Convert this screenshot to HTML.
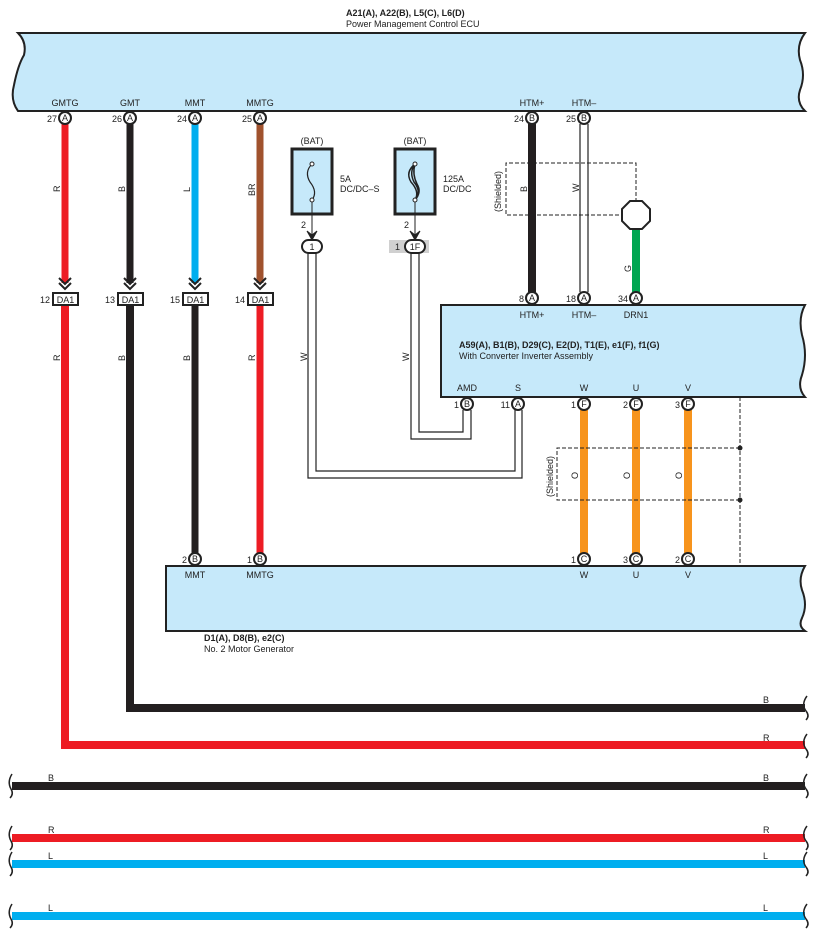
<!DOCTYPE html>
<html><head><meta charset="utf-8"><style>
body{margin:0;background:#fff}
svg{display:block}
text{font-family:"Liberation Sans",sans-serif;font-size:9px;fill:#222}
.b{font-weight:bold}
</style></head><body>
<svg width="818" height="938" viewBox="0 0 818 938" xmlns="http://www.w3.org/2000/svg">
<!-- Top ECU -->
<text x="346" y="16" class="b">A21(A), A22(B), L5(C), L6(D)</text>
<text x="346" y="27">Power Management Control ECU</text>
<path d="M18,33 L805,33 Q796,45 800,60 Q806,75 800,90 Q796,102 805,111 L18,111 Q10,100 14,85 Q18,65 24,55 Q27,42 18,33 Z" fill="#c6e9fa" stroke="#222" stroke-width="2"/>
<g text-anchor="middle">
<text x="65" y="106">GMTG</text><text x="130" y="106">GMT</text><text x="195" y="106">MMT</text><text x="260" y="106">MMTG</text>
<text x="532" y="106">HTM+</text><text x="584" y="106">HTM–</text>
</g>
<!-- wires top -->
<line x1="65" y1="124" x2="65" y2="283" stroke="#ed1c24" stroke-width="7"/>
<line x1="130" y1="124" x2="130" y2="283" stroke="#231f20" stroke-width="7"/>
<line x1="195" y1="124" x2="195" y2="283" stroke="#00aeef" stroke-width="7"/>
<line x1="260" y1="124" x2="260" y2="283" stroke="#a0522d" stroke-width="7"/>
<!-- lower wires -->
<path d="M65,305 L65,745 L805,745" fill="none" stroke="#ed1c24" stroke-width="8"/>
<path d="M130,305 L130,708 L805,708" fill="none" stroke="#231f20" stroke-width="8"/>
<line x1="195" y1="305" x2="195" y2="554" stroke="#231f20" stroke-width="7"/>
<line x1="260" y1="305" x2="260" y2="554" stroke="#ed1c24" stroke-width="7"/>
<!-- chevrons + DA1 -->
<g fill="none" stroke="#222" stroke-width="2">
<path d="M59,278 L65,284 L71,278 M59,283 L65,289 L71,283"/>
<path d="M124,278 L130,284 L136,278 M124,283 L130,289 L136,283"/>
<path d="M189,278 L195,284 L201,278 M189,283 L195,289 L201,283"/>
<path d="M254,278 L260,284 L266,278 M254,283 L260,289 L266,283"/>
</g>
<g fill="#fff" stroke="#222" stroke-width="2">
<rect x="53" y="293" width="25" height="12"/><rect x="118" y="293" width="25" height="12"/><rect x="183" y="293" width="25" height="12"/><rect x="248" y="293" width="25" height="12"/>
</g>
<g text-anchor="middle"><text x="65.5" y="303">DA1</text><text x="130.5" y="303">DA1</text><text x="195.5" y="303">DA1</text><text x="260.5" y="303">DA1</text></g>
<g text-anchor="end"><text x="50" y="303">12</text><text x="115" y="303">13</text><text x="180" y="303">15</text><text x="245" y="303">14</text></g>
<!-- wire labels rotated -->
<g font-size="9">
<text transform="translate(60,192) rotate(-90)">R</text>
<text transform="translate(125,192) rotate(-90)">B</text>
<text transform="translate(190,192) rotate(-90)">L</text>
<text transform="translate(255,196) rotate(-90)">BR</text>
<text transform="translate(60,361) rotate(-90)">R</text>
<text transform="translate(125,361) rotate(-90)">B</text>
<text transform="translate(190,361) rotate(-90)">B</text>
<text transform="translate(255,361) rotate(-90)">R</text>
<text transform="translate(307,361) rotate(-90)">W</text>
<text transform="translate(409,361) rotate(-90)">W</text>
<text transform="translate(527,192) rotate(-90)">B</text>
<text transform="translate(579,192) rotate(-90)">W</text>
<text transform="translate(631,272) rotate(-90)">G</text>
<text transform="translate(501,212) rotate(-90)">(Shielded)</text>
<text transform="translate(553,497) rotate(-90)">(Shielded)</text>
<text transform="translate(578,479) rotate(-90)">O</text>
<text transform="translate(630,479) rotate(-90)">O</text>
<text transform="translate(682,479) rotate(-90)">O</text>
</g>
<!-- Fuses -->
<text x="312" y="144" text-anchor="middle">(BAT)</text>
<text x="415" y="144" text-anchor="middle">(BAT)</text>
<rect x="292" y="149" width="40" height="65" fill="#c6e9fa" stroke="#222" stroke-width="3"/>
<rect x="395" y="149" width="40" height="65" fill="#c6e9fa" stroke="#222" stroke-width="3"/>
<path d="M312,164 Q304,172 310,182 Q318,192 312,200" fill="none" stroke="#222" stroke-width="1.2"/>
<circle cx="312" cy="164" r="2" fill="#fff" stroke="#222"/><circle cx="312" cy="200" r="2" fill="#fff" stroke="#222"/>
<path d="M415,164 Q405,172 411,182 Q420,192 415,200 M415,164 Q409,172 414,182 Q422,192 415,200 M415,164 Q412,174 417,184 Q422,192 415,200" fill="none" stroke="#222" stroke-width="1.5"/>
<circle cx="415" cy="164" r="2" fill="#fff" stroke="#222"/><circle cx="415" cy="200" r="2" fill="#fff" stroke="#222"/>
<text x="340" y="182">5A</text><text x="340" y="192">DC/DC–S</text>
<text x="443" y="182">125A</text><text x="443" y="192">DC/DC</text>
<line x1="312" y1="202" x2="312" y2="236" stroke="#222"/>
<line x1="415" y1="202" x2="415" y2="236" stroke="#222"/>
<path d="M307,231 L312,240 L317,231 L312,235Z M410,231 L415,240 L420,231 L415,235Z" fill="#222" stroke="#222"/>
<text x="301" y="228">2</text><text x="404" y="228">2</text>
<rect x="389" y="240" width="40" height="13" fill="#d0d0d0"/>
<text x="395" y="250">1</text>
<rect x="302" y="240" width="20" height="13" rx="6.5" fill="#fff" stroke="#222" stroke-width="2"/>
<text x="312" y="250" text-anchor="middle">1</text>
<rect x="405" y="240" width="20" height="13" rx="6.5" fill="#fff" stroke="#222" stroke-width="2"/>
<text x="415" y="250" text-anchor="middle">1F</text>
<!-- white double wires -->
<g fill="none" stroke="#222" stroke-width="1.2">
<path d="M308,253 L308,478 L522,478 L522,410"/>
<path d="M316,253 L316,471 L515,471 L515,410"/>
<path d="M411,253 L411,439 L471,439 L471,410"/>
<path d="M419,253 L419,432 L463,432 L463,410"/>
<path d="M580,124 L580,292 M588,124 L588,292"/>
</g>
<!-- HTM+ black -->
<line x1="532" y1="124" x2="532" y2="292" stroke="#231f20" stroke-width="8"/>
<!-- shield top -->
<path d="M636,202 L636,163 L506,163 L506,215 L622,215" fill="none" stroke="#222" stroke-dasharray="4,2"/>
<line x1="636" y1="228" x2="636" y2="292" stroke="#00a651" stroke-width="8"/>
<polygon points="630,201 642,201 650,209 650,221 642,229 630,229 622,221 622,209" fill="#fff" stroke="#222" stroke-width="2"/>
<!-- Inverter box -->
<path d="M441,305 L805,305 Q798,318 802,335 Q808,355 802,375 Q797,388 805,397 L441,397 Z" fill="#c6e9fa" stroke="#222" stroke-width="2"/>
<g text-anchor="middle">
<text x="532" y="318">HTM+</text><text x="584" y="318">HTM–</text><text x="636" y="318">DRN1</text>
<text x="467" y="391">AMD</text><text x="518" y="391">S</text><text x="584" y="391">W</text><text x="636" y="391">U</text><text x="688" y="391">V</text>
</g>
<text x="459" y="348" class="b">A59(A), B1(B), D29(C), E2(D), T1(E), e1(F), f1(G)</text>
<text x="459" y="359">With Converter Inverter Assembly</text>
<!-- orange -->
<g stroke="#f7941d" stroke-width="8"><line x1="584" y1="410" x2="584" y2="553"/><line x1="636" y1="410" x2="636" y2="553"/><line x1="688" y1="410" x2="688" y2="553"/></g>
<path d="M740,397 L740,566 M740,448 L557,448 L557,500 L740,500" fill="none" stroke="#222" stroke-dasharray="4,2"/>
<circle cx="740" cy="448" r="2.5" fill="#222"/><circle cx="740" cy="500" r="2.5" fill="#222"/>
<!-- Motor box -->
<path d="M166,566 L805,566 Q798,578 802,590 Q808,605 802,618 Q798,626 805,631 L166,631 Z" fill="#c6e9fa" stroke="#222" stroke-width="2"/>
<g text-anchor="middle"><text x="195" y="578">MMT</text><text x="260" y="578">MMTG</text><text x="584" y="578">W</text><text x="636" y="578">U</text><text x="688" y="578">V</text></g>
<text x="204" y="641" class="b">D1(A), D8(B), e2(C)</text>
<text x="204" y="652">No.  2 Motor Generator</text>
<!-- connectors -->
<g fill="#fff" stroke="#222" stroke-width="2">
<circle cx="65" cy="118" r="6"/><circle cx="130" cy="118" r="6"/><circle cx="195" cy="118" r="6"/><circle cx="260" cy="118" r="6"/>
<circle cx="532" cy="118" r="6"/><circle cx="584" cy="118" r="6"/>
<circle cx="532" cy="298" r="6"/><circle cx="584" cy="298" r="6"/><circle cx="636" cy="298" r="6"/>
<circle cx="467" cy="404" r="6"/><circle cx="518" cy="404" r="6"/><circle cx="584" cy="404" r="6"/><circle cx="636" cy="404" r="6"/><circle cx="688" cy="404" r="6"/>
<circle cx="195" cy="559" r="6"/><circle cx="260" cy="559" r="6"/><circle cx="584" cy="559" r="6"/><circle cx="636" cy="559" r="6"/><circle cx="688" cy="559" r="6"/>
</g>
<g text-anchor="middle" font-size="8">
<text x="65" y="121">A</text><text x="130" y="121">A</text><text x="195" y="121">A</text><text x="260" y="121">A</text>
<text x="532" y="121">B</text><text x="584" y="121">B</text>
<text x="532" y="301">A</text><text x="584" y="301">A</text><text x="636" y="301">A</text>
<text x="467" y="407">B</text><text x="518" y="407">A</text><text x="584" y="407">F</text><text x="636" y="407">F</text><text x="688" y="407">F</text>
<text x="195" y="562">B</text><text x="260" y="562">B</text><text x="584" y="562">C</text><text x="636" y="562">C</text><text x="688" y="562">C</text>
</g>
<g text-anchor="end">
<text x="57" y="122">27</text><text x="122" y="122">26</text><text x="187" y="122">24</text><text x="252" y="122">25</text>
<text x="524" y="122">24</text><text x="576" y="122">25</text>
<text x="524" y="302">8</text><text x="576" y="302">18</text><text x="628" y="302">34</text>
<text x="459" y="408">1</text><text x="510" y="408">11</text><text x="576" y="408">1</text><text x="628" y="408">2</text><text x="680" y="408">3</text>
<text x="187" y="563">2</text><text x="252" y="563">1</text><text x="576" y="563">1</text><text x="628" y="563">3</text><text x="680" y="563">2</text>
</g>
<!-- bottom wires -->
<line x1="12" y1="786" x2="805" y2="786" stroke="#231f20" stroke-width="8"/>
<line x1="12" y1="838" x2="805" y2="838" stroke="#ed1c24" stroke-width="8"/>
<line x1="12" y1="864" x2="805" y2="864" stroke="#00aeef" stroke-width="8"/>
<line x1="12" y1="916" x2="805" y2="916" stroke="#00aeef" stroke-width="8"/>
<g fill="none" stroke="#222" stroke-width="1.5">
<path d="M807,696 Q801,704 806,711 Q810,716 806,720"/>
<path d="M807,734 Q801,742 806,749 Q810,754 806,758"/>
<path d="M807,774 Q801,782 806,789 Q810,794 806,798"/>
<path d="M807,826 Q801,834 806,841 Q810,846 806,850"/>
<path d="M807,852 Q801,860 806,867 Q810,872 806,876"/>
<path d="M807,904 Q801,912 806,919 Q810,924 806,928"/>
<path d="M12,774 Q7,782 11,789 Q14,794 10,798"/>
<path d="M12,826 Q7,834 11,841 Q14,846 10,850"/>
<path d="M12,852 Q7,860 11,867 Q14,872 10,876"/>
<path d="M12,904 Q7,912 11,919 Q14,924 10,928"/>
</g>
<g font-size="8">
<text x="763" y="703">B</text><text x="763" y="741">R</text><text x="763" y="781">B</text><text x="763" y="833">R</text><text x="763" y="859">L</text><text x="763" y="911">L</text>
<text x="48" y="781">B</text><text x="48" y="833">R</text><text x="48" y="859">L</text><text x="48" y="911">L</text>
</g>
</svg>
</body></html>
